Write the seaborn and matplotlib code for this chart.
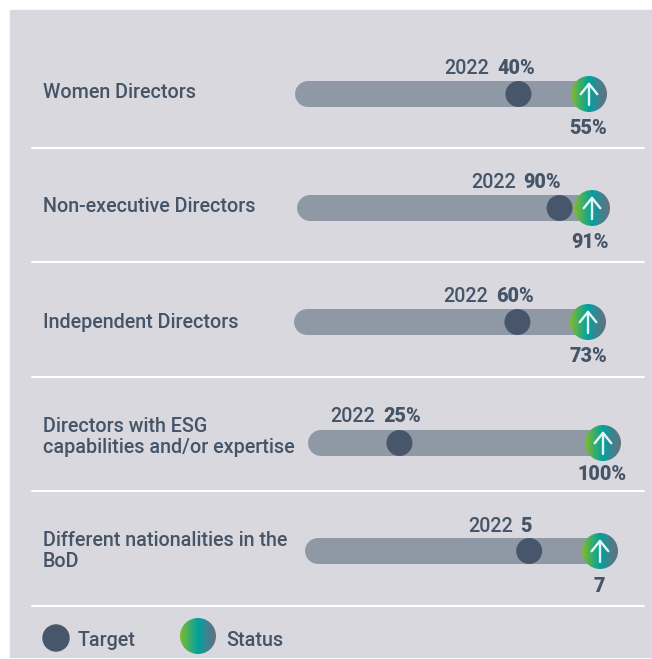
import numpy as np
import pandas as pd
import matplotlib.pyplot as plt
import seaborn as sns
from matplotlib.colors import LinearSegmentedColormap
from matplotlib.patches import Circle, Rectangle

# =========================
# Data
# =========================
labels = [
    "Women Directors",
    "Non-executive Directors",
    "Independent Directors",
    "Directors with ESG\ncapabilities and/or expertise",
    "Different nationalities in the\nBoD",
]
target_labels = ["40%", "90%", "60%", "25%", "5"]
status_labels = ["55%", "91%", "73%", "100%", "7"]
# where the marks sit along each track, in % of the track
target_share = [76, 89, 76, 31, 76]
status_share = [100, 100, 100, 100, 100]

# =========================
# Layout (pixels)
# =========================
row_y = [94, 208, 322, 443, 551]
label_y = [92, 207, 322, 437, 551]
track_left = [295, 297, 294, 308, 305]
track_len = [294, 295, 294, 295, 295]
year_right = [535, 561, 534, 421, 532]
year_y = [68, 182, 297, 417, 527]
value_right = [607, 609, 607, 627, 605]
value_y = [128, 243, 356, 475, 586]
sep_y = [148, 262, 377, 491, 606]

TEXT = "#465468"
TRACK = "#8f99a5"
DOT = "#47566a"
PANEL = "#d8d8de"
PX = 0.72  # one pixel in points at dpi 100

sns.set_theme(style="white")
plt.rcParams["font.family"] = ["Roboto", "DejaVu Sans"]

fig = plt.figure(figsize=(6.52, 6.59), dpi=100, facecolor="white")
ax = fig.add_axes([0, 0, 1, 1])
ax.set_xlim(0, 652)
ax.set_ylim(659, 0)
ax.axis("off")

ax.add_patch(Rectangle((10, 10), 642, 647, color=PANEL, zorder=0))

df = pd.DataFrame({
    "label": labels,
    "y": row_y,
    "left": track_left,
    "length": track_len,
    "target": target_share,
    "status": status_share,
})
df["target_x"] = df["left"] + df["target"] / 100 * df["length"]
df["status_x"] = df["left"] + df["status"] / 100 * df["length"]

status_cmap = LinearSegmentedColormap.from_list(
    "status", ["#82bb2c", "#3fae66", "#00a2a0", "#3d8490", "#66707f"]
)
gradient = np.linspace(0, 1, 128).reshape(1, -1)


def status_circle(x, y, r=18):
    im = ax.imshow(
        gradient, cmap=status_cmap, extent=(x - r, x + r, y + r, y - r),
        aspect="auto", zorder=4, interpolation="bilinear",
    )
    im.set_clip_path(Circle((x, y), r, transform=ax.transData))


# =========================
# Rows
# =========================
for i, row in df.iterrows():
    track = pd.DataFrame({"x": [row["left"] + 13, row["status_x"]], "y": [row["y"]] * 2})
    sns.lineplot(
        data=track, x="x", y="y", ax=ax, color=TRACK, linewidth=26 * PX,
        solid_capstyle="round", estimator=None, sort=False, legend=False, zorder=2,
    )
    status_circle(row["status_x"], row["y"])
    ax.annotate(
        "", xy=(row["status_x"], row["y"] - 12), xytext=(row["status_x"], row["y"] + 11),
        arrowprops=dict(arrowstyle="->,head_width=0.5,head_length=0.62", color="#e6f6f4", lw=1.7,
                        shrinkA=0, shrinkB=0),
        zorder=5,
    )
    ax.text(43, label_y[i], row["label"], fontsize=14.2,
            color=TEXT, va="center", ha="left", linespacing=1.12, fontweight="medium")

    bold = ax.text(year_right[i], year_y[i], target_labels[i], fontsize=14.2, fontweight="black",
                   color=TEXT, ha="right", va="center")
    ax.annotate("2022", xy=(0, 0.5), xycoords=bold, xytext=(-5.5, 0), textcoords="offset points",
                fontsize=14.2, color=TEXT, ha="right", va="center", fontweight="medium")
    ax.text(value_right[i], value_y[i], status_labels[i], fontsize=14.2, fontweight="black",
            color=TEXT, ha="right", va="center")

sns.scatterplot(data=df, x="target_x", y="y", ax=ax, color=DOT, s=(26 * PX) ** 2,
                edgecolor="none", legend=False, zorder=3)

for y in sep_y:
    ax.plot([32, 644], [y, y], color="white", lw=2 * PX, zorder=1)

# =========================
# Legend
# =========================
ax.add_patch(Circle((56, 638), 13, color=DOT, zorder=3))
ax.text(78, 640, "Target", fontsize=14.2, color=TEXT, va="center", fontweight="medium")
status_circle(198, 636)
ax.text(226, 640, "Status", fontsize=14.2, color=TEXT, va="center", fontweight="medium")

ax.set_xlim(0, 652)
ax.set_ylim(659, 0)
ax.set_xlabel("")
ax.set_ylabel("")

plt.savefig("out.png", dpi=100)
